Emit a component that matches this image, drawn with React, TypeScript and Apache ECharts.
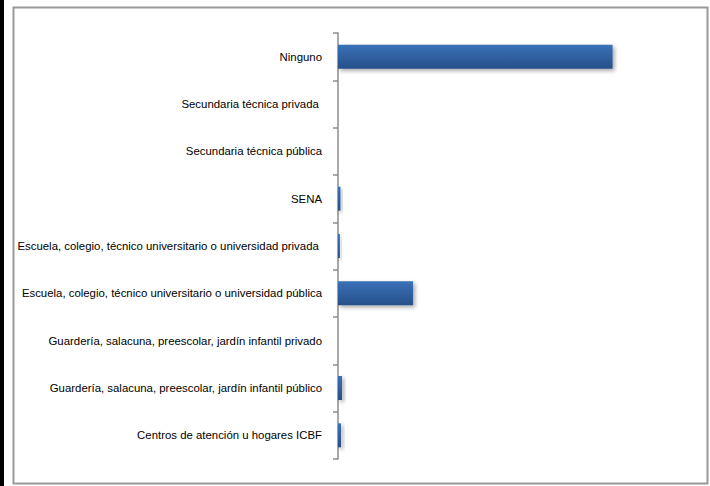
import React, { useEffect, useRef } from "react";
import * as echarts from "echarts";

const categories = [
  "Centros de atención u hogares ICBF",
  "Guardería, salacuna, preescolar, jardín infantil público",
  "Guardería, salacuna, preescolar, jardín infantil privado",
  "Escuela, colegio, técnico universitario o universidad pública",
  "Escuela, colegio, técnico universitario o universidad privada ",
  "SENA",
  "Secundaria técnica pública",
  "Secundaria técnica privada ",
  "Ninguno",
];
const values = [0.8, 1.05, 0, 19.8, 0.5, 0.65, 0, 0, 72.5];

export default function App() {
  const ref = useRef<HTMLDivElement>(null);
  useEffect(() => {
    if (!ref.current) return;
    const chart = echarts.init(ref.current, undefined, { renderer: "svg" });
    chart.setOption({
      animation: false,
      backgroundColor: "#ffffff",
      graphic: [
        { type: "rect", shape: { x: 0, y: 0, width: 4, height: 486 }, style: { fill: "#000000" } },
        {
          type: "rect",
          shape: { x: 13.5, y: 7.5, width: 694, height: 476 },
          style: { fill: "none", stroke: "#9a9a9a", lineWidth: 2 },
        },
      ],
      grid: { left: 338, right: 69, top: 33, bottom: 27, containLabel: false, outerBoundsMode: "none" },
      xAxis: {
        type: "value",
        min: 0,
        max: 80,
        show: false,
        splitLine: { show: false },
      },
      yAxis: {
        type: "category",
        data: categories,
        axisLine: { show: true, lineStyle: { color: "#8c8c8c", width: 1.5 } },
        axisTick: { show: true, length: 5, lineStyle: { color: "#8c8c8c", width: 1.5 } },
        axisLabel: {
          margin: 16,
          color: "#000000",
          fontSize: 11.4,
          fontFamily: "'Liberation Sans', Arial, sans-serif",
        },
      },
      series: [
        {
          type: "bar",
          data: values,
          barWidth: 24,
          itemStyle: {
            color: new echarts.graphic.LinearGradient(0, 0, 0, 1, [
              { offset: 0, color: "#3a71b8" },
              { offset: 1, color: "#26508a" },
            ]),
            shadowColor: "rgba(0,0,0,0.35)",
            shadowBlur: 4,
            shadowOffsetX: 2,
            shadowOffsetY: 2,
          },
        },
      ],
    });
    return () => chart.dispose();
  }, []);
  return (
    <div
      ref={ref}
      style={{ position: "fixed", left: 0, top: 0, width: 710, height: 486 }}
    />
  );
}
